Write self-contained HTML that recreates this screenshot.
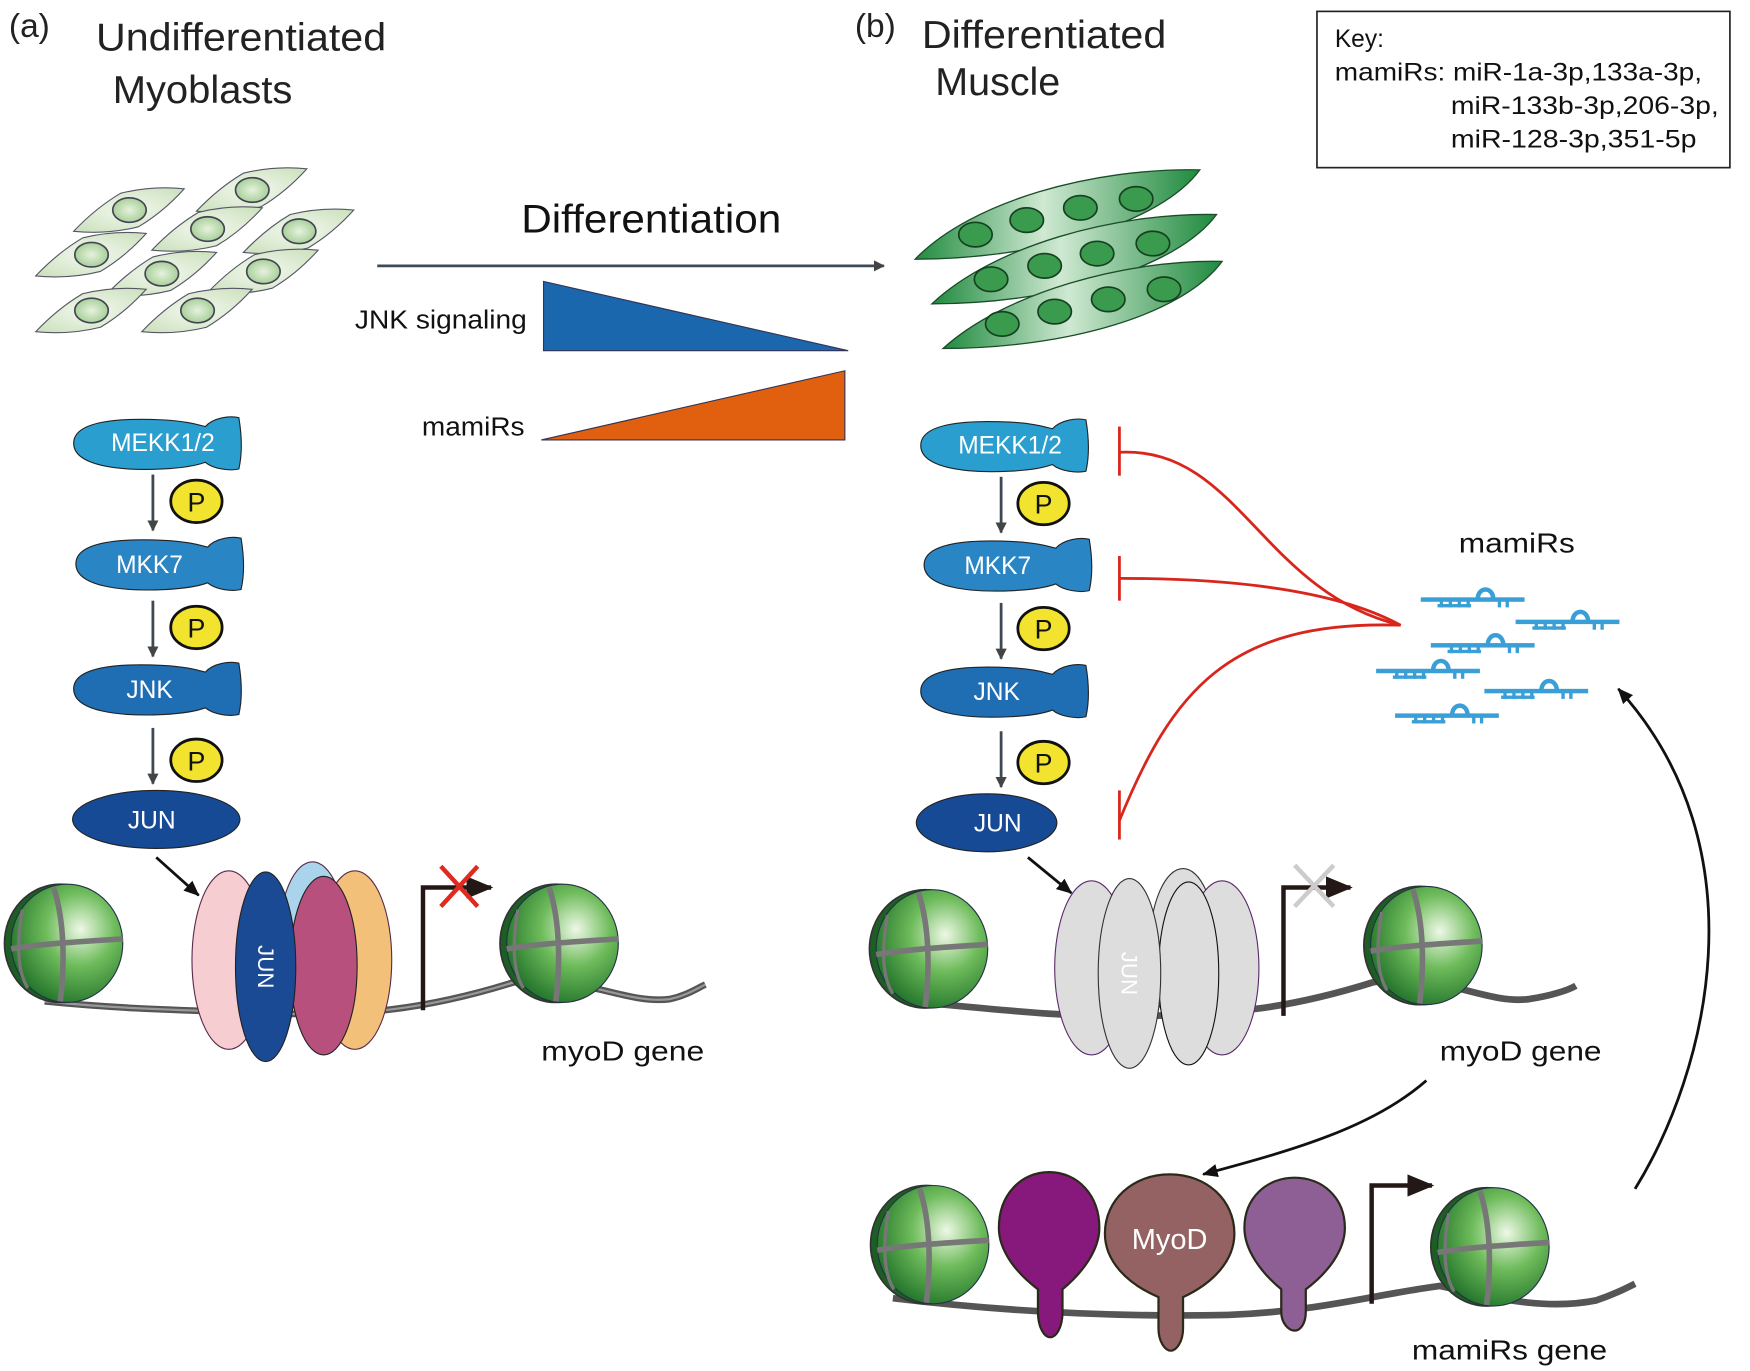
<!DOCTYPE html>
<html><head><meta charset="utf-8"><style>
html,body{margin:0;padding:0;background:#fff;}
svg{display:block;}
text{font-family:"Liberation Sans",sans-serif;}
</style></head><body>
<svg width="1750" height="1371" viewBox="0 0 1568 1228" xmlns="http://www.w3.org/2000/svg">
<defs>
<radialGradient id="nuc" cx="0.62" cy="0.38" r="0.7">
<stop offset="0" stop-color="#eef8e6"/><stop offset="0.45" stop-color="#6dbb5a"/><stop offset="1" stop-color="#1d6e28"/>
</radialGradient>
<radialGradient id="cellg" cx="0.5" cy="0.5" r="0.6">
<stop offset="0" stop-color="#f3f8ee"/><stop offset="1" stop-color="#cfe3c2"/>
</radialGradient>
<radialGradient id="cnuc" cx="0.5" cy="0.5" r="0.6">
<stop offset="0" stop-color="#e6f2de"/><stop offset="1" stop-color="#9cc98c"/>
</radialGradient>
<linearGradient id="fib" x1="0" y1="0" x2="1" y2="0">
<stop offset="0" stop-color="#1f8a3e"/><stop offset="0.45" stop-color="#cfe9d2"/><stop offset="1" stop-color="#1f8a3e"/>
</linearGradient>
<g id="cell">
<path d="M-50,19 Q-30,-2 -8,-15 Q20,-22 49,-19 Q30,2 8,15 Q-20,22 -50,19 Z" fill="url(#cellg)" stroke="#556" stroke-width="1"/>
<ellipse cx="0" cy="0" rx="15" ry="11" fill="url(#cnuc)" stroke="#445" stroke-width="1.5"/>
</g>
<g id="nucl">
<ellipse cx="-6" cy="0" rx="50" ry="53" fill="#1c5e24" stroke="#333" stroke-width="1.5"/>
<ellipse cx="0" cy="0" rx="50" ry="53" fill="url(#nuc)" stroke="#234" stroke-width="1"/>
<path d="M-12,-50 C-2,-20 -2,20 -6,52 M-50,5 C-20,0 20,-2 50,-4" stroke="#777" stroke-width="5" fill="none"/>
<path d="M-40,-30 C-45,0 -45,25 -35,40" stroke="#777" stroke-width="3" fill="none"/>
</g>
<g id="mir" fill="#3a9fd6">
<rect x="0" y="-2" width="93" height="4"/>
<rect x="17" y="0" width="3" height="7"/><rect x="25" y="0" width="3" height="7"/><rect x="33" y="0" width="3" height="7"/><rect x="41" y="0" width="3" height="7"/>
<rect x="15" y="4" width="30" height="3"/>
<path d="M51,0 C51,-12 65,-12 65,0" stroke="#3a9fd6" stroke-width="4" fill="none"/>
<rect x="69" y="0" width="3" height="7"/><rect x="76" y="0" width="3" height="7"/>
</g>
<marker id="ah" markerWidth="10" markerHeight="10" refX="9" refY="5" orient="auto" markerUnits="userSpaceOnUse"><path d="M0,0 L10,5 L0,10 Z" fill="#444"/></marker>
<marker id="ahk" markerWidth="14" markerHeight="12" refX="13" refY="6" orient="auto" markerUnits="userSpaceOnUse"><path d="M0,0 L14,6 L0,12 Z" fill="#111"/></marker>
<marker id="ahb" markerWidth="24" markerHeight="20" refX="22" refY="10" orient="auto" markerUnits="userSpaceOnUse"><path d="M0,0 L24,10 L0,20 Z" fill="#231815"/></marker>
<g id="fish"><path d="M0,25 C0,5 40,2 80,4 C100,5 110,8 118,10 C125,2 140,0 148,2 C151,20 151,35 148,48 C140,50 125,48 118,42 C110,45 100,47 80,48 C40,50 0,45 0,25 Z" stroke="#222" stroke-width="1"/></g>
<g id="P"><ellipse cx="0" cy="0" rx="23" ry="19" fill="#f2e42e" stroke="#111" stroke-width="2.5"/><text x="0" y="9" font-size="24" text-anchor="middle" fill="#111">P</text></g>
</defs>

<!-- titles -->
<text x="8" y="33" font-size="30" fill="#222">(a)</text>
<text x="86" y="45" font-size="35" fill="#222" textLength="260" lengthAdjust="spacingAndGlyphs">Undifferentiated</text>
<text x="101" y="92" font-size="35" fill="#222" textLength="161" lengthAdjust="spacingAndGlyphs">Myoblasts</text>
<text x="766" y="33" font-size="30" fill="#222">(b)</text>
<text x="826" y="43" font-size="35" fill="#222" textLength="219" lengthAdjust="spacingAndGlyphs">Differentiated</text>
<text x="838" y="85" font-size="35" fill="#222" textLength="112" lengthAdjust="spacingAndGlyphs">Muscle</text>

<!-- key -->
<rect x="1180" y="10" width="370" height="140" fill="#fff" stroke="#222" stroke-width="1.5"/>
<text x="1196" y="42" font-size="22" fill="#111">Key:</text>
<text x="1196" y="72" font-size="22" fill="#111" textLength="329" lengthAdjust="spacingAndGlyphs">mamiRs: miR-1a-3p,133a-3p,</text>
<text x="1300" y="102" font-size="22" fill="#111" textLength="240" lengthAdjust="spacingAndGlyphs">miR-133b-3p,206-3p,</text>
<text x="1300" y="132" font-size="22" fill="#111" textLength="220" lengthAdjust="spacingAndGlyphs">miR-128-3p,351-5p</text>

<!-- myoblasts -->
<use href="#cell" x="226" y="170"/>
<use href="#cell" x="116" y="188"/><use href="#cell" x="186" y="205"/><use href="#cell" x="268" y="207"/>
<use href="#cell" x="82" y="228"/><use href="#cell" x="145" y="245"/><use href="#cell" x="236" y="243"/>
<use href="#cell" x="82" y="278"/><use href="#cell" x="177" y="278"/>

<!-- differentiation -->
<text x="467" y="208" font-size="36" fill="#111" textLength="233" lengthAdjust="spacingAndGlyphs">Differentiation</text>
<line x1="338" y1="238" x2="792" y2="238" stroke="#3d4a55" stroke-width="2.5" marker-end="url(#ah)"/>
<text x="318" y="294" font-size="23" fill="#111" textLength="154" lengthAdjust="spacingAndGlyphs">JNK signaling</text>
<polygon points="487,252 487,314 760,314" fill="#1a67ad" stroke="#335" stroke-width="1"/>
<text x="378" y="390" font-size="23" fill="#111" textLength="92" lengthAdjust="spacingAndGlyphs">mamiRs</text>
<polygon points="485,394 757,332 757,394" fill="#e0600f" stroke="#335" stroke-width="1"/>

<!-- muscle fibers -->
<g stroke="#1b4d2a" stroke-width="1.2">
<path d="M820,232 C870,180 980,150 1075,152 C1040,200 930,232 820,232 Z" fill="url(#fib)"/>
<path d="M835,272 C890,220 1000,190 1090,192 C1055,240 945,272 835,272 Z" fill="url(#fib)"/>
<path d="M845,312 C900,262 1010,232 1095,234 C1060,282 955,312 845,312 Z" fill="url(#fib)"/>
</g>
<g fill="#3a9a4e" stroke="#16401f" stroke-width="1.5">
<ellipse cx="874" cy="210" rx="15" ry="11"/><ellipse cx="920" cy="197" rx="15" ry="11"/><ellipse cx="968" cy="186" rx="15" ry="11"/><ellipse cx="1018" cy="178" rx="15" ry="11"/>
<ellipse cx="888" cy="250" rx="15" ry="11"/><ellipse cx="936" cy="238" rx="15" ry="11"/><ellipse cx="983" cy="227" rx="15" ry="11"/><ellipse cx="1033" cy="218" rx="15" ry="11"/>
<ellipse cx="898" cy="290" rx="15" ry="11"/><ellipse cx="945" cy="279" rx="15" ry="11"/><ellipse cx="993" cy="268" rx="15" ry="11"/><ellipse cx="1043" cy="259" rx="15" ry="11"/>
</g>

<!-- left pathway -->
<use href="#fish" x="66" y="372" fill="#2a9fcf"/>
<text x="146" y="404" font-size="22" text-anchor="middle" fill="#fff">MEKK1/2</text>
<use href="#fish" x="68" y="480" fill="#2a85c5"/>
<text x="134" y="513" font-size="22" text-anchor="middle" fill="#fff">MKK7</text>
<use href="#fish" x="66" y="592" fill="#1f6db3"/>
<text x="134" y="625" font-size="22" text-anchor="middle" fill="#fff">JNK</text>
<ellipse cx="140" cy="734" rx="75" ry="26" fill="#174a94" stroke="#222" stroke-width="1"/>
<text x="136" y="742" font-size="22" text-anchor="middle" fill="#fff">JUN</text>
<g stroke="#3d4a55" stroke-width="2.5"><line x1="137" y1="425" x2="137" y2="475" marker-end="url(#ah)"/><line x1="137" y1="538" x2="137" y2="588" marker-end="url(#ah)"/><line x1="137" y1="652" x2="137" y2="702" marker-end="url(#ah)"/></g>
<use href="#P" x="176" y="449"/><use href="#P" x="176" y="562"/><use href="#P" x="176" y="681"/>
<line x1="140" y1="768" x2="178" y2="802" stroke="#111" stroke-width="2.5" marker-end="url(#ahk)"/>

<!-- left chromatin -->
<path d="M40,897 C120,905 180,905 250,908 C320,910 380,905 460,880 C520,872 560,900 600,895 C615,892 625,885 632,882" stroke="#555" stroke-width="6" fill="none"/>
<path d="M40,897 C120,905 180,905 250,908 C320,910 380,905 460,880 C520,872 560,900 600,895 C615,892 625,885 632,882" stroke="#999" stroke-width="2" fill="none"/>
<use href="#nucl" x="60" y="845"/>
<use href="#nucl" x="504" y="845"/>
<ellipse cx="205" cy="860" rx="33" ry="80" fill="#f6cdd0" stroke="#5a2a4a" stroke-width="1"/>
<ellipse cx="280" cy="842" rx="30" ry="70" fill="#a9d4ec" stroke="#5a2a4a" stroke-width="1"/>
<ellipse cx="318" cy="860" rx="33" ry="80" fill="#f3c07a" stroke="#5a2a4a" stroke-width="1"/>
<ellipse cx="290" cy="865" rx="30" ry="80" fill="#b8507e" stroke="#222" stroke-width="1"/>
<ellipse cx="238" cy="866" rx="27" ry="85" fill="#1a4a94" stroke="#222" stroke-width="1"/>
<text x="238" y="866" font-size="20" text-anchor="middle" fill="#fff" transform="rotate(90 238 866)" dy="7">JUN</text>
<path d="M379,905 V795 H440" stroke="#231815" stroke-width="4" fill="none" marker-end="url(#ahb)"/>
<path d="M395,776 L428,812 M428,776 L395,812" stroke="#e02a20" stroke-width="4"/>
<text x="485" y="950" font-size="25" fill="#111" textLength="146" lengthAdjust="spacingAndGlyphs">myoD gene</text>

<!-- right pathway -->
<use href="#fish" x="825" y="374" fill="#2a9fcf"/>
<text x="905" y="406" font-size="22" text-anchor="middle" fill="#fff">MEKK1/2</text>
<use href="#fish" x="828" y="481" fill="#2a85c5"/>
<text x="894" y="514" font-size="22" text-anchor="middle" fill="#fff">MKK7</text>
<use href="#fish" x="825" y="594" fill="#1f6db3"/>
<text x="893" y="627" font-size="22" text-anchor="middle" fill="#fff">JNK</text>
<ellipse cx="884" cy="737" rx="63" ry="26" fill="#174a94" stroke="#222" stroke-width="1"/>
<text x="894" y="745" font-size="22" text-anchor="middle" fill="#fff">JUN</text>
<g stroke="#3d4a55" stroke-width="2.5"><line x1="897" y1="427" x2="897" y2="477" marker-end="url(#ah)"/><line x1="897" y1="540" x2="897" y2="590" marker-end="url(#ah)"/><line x1="897" y1="655" x2="897" y2="705" marker-end="url(#ah)"/></g>
<use href="#P" x="935" y="451"/><use href="#P" x="935" y="563"/><use href="#P" x="935" y="683"/>
<line x1="921" y1="768" x2="960" y2="800" stroke="#111" stroke-width="2.5" marker-end="url(#ahk)"/>

<!-- inhibition -->
<g stroke="#d9261c" stroke-width="2.5" fill="none">
<path d="M1003,405 C1110,400 1130,530 1255,560"/>
<path d="M1003,518 C1110,518 1200,530 1255,560"/>
<path d="M1003,735 C1050,620 1100,555 1255,560"/>
<line x1="1003" y1="382" x2="1003" y2="426"/><line x1="1003" y1="498" x2="1003" y2="538"/><line x1="1003" y1="708" x2="1003" y2="752"/>
</g>
<text x="1307" y="495" font-size="25" fill="#111" textLength="104" lengthAdjust="spacingAndGlyphs">mamiRs</text>
<use href="#mir" x="1273" y="537"/><use href="#mir" x="1358" y="557"/><use href="#mir" x="1282" y="578"/>
<use href="#mir" x="1233" y="601"/><use href="#mir" x="1330" y="619"/><use href="#mir" x="1250" y="641"/>
<path d="M1465,1065 C1530,960 1580,760 1450,617" stroke="#111" stroke-width="2.5" fill="none" marker-end="url(#ahk)"/>

<!-- right chromatin -->
<path d="M815,897 C900,905 960,912 1030,910 C1100,908 1150,905 1230,880 C1290,870 1330,900 1370,895 C1390,892 1405,887 1412,883" stroke="#555" stroke-width="6" fill="none"/>
<use href="#nucl" x="835" y="850"/>
<use href="#nucl" x="1278" y="847"/>
<g stroke="#5a2a6a" stroke-width="1">
<ellipse cx="978" cy="867" rx="33" ry="78" fill="#ddd"/>
<ellipse cx="1060" cy="850" rx="30" ry="72" fill="#ddd" stroke="#333"/>
<ellipse cx="1095" cy="867" rx="33" ry="78" fill="#ddd"/>
<ellipse cx="1065" cy="872" rx="27" ry="82" fill="#ddd" stroke="#111"/>
<ellipse cx="1012" cy="872" rx="28" ry="85" fill="#ddd" stroke="#333"/>
</g>
<text x="1012" y="872" font-size="20" text-anchor="middle" fill="#fff" transform="rotate(90 1012 872)" dy="7">JUN</text>
<path d="M1150,910 V795 H1210" stroke="#231815" stroke-width="4" fill="none" marker-end="url(#ahb)"/>
<path d="M1160,775 L1195,812 M1195,775 L1160,812" stroke="#ccc" stroke-width="4"/>
<text x="1290" y="950" font-size="25" fill="#111" textLength="145" lengthAdjust="spacingAndGlyphs">myoD gene</text>
<path d="M1278,968 C1230,1010 1160,1030 1078,1052" stroke="#111" stroke-width="2.5" fill="none" marker-end="url(#ahk)"/>

<!-- bottom chromatin -->
<path d="M800,1163 C900,1175 1000,1180 1100,1178 C1180,1175 1230,1160 1290,1152 C1330,1160 1380,1175 1430,1165 C1445,1160 1455,1155 1465,1150" stroke="#555" stroke-width="6" fill="none"/>
<use href="#nucl" x="836" y="1115"/>
<use href="#nucl" x="1338" y="1117"/>
<g stroke="#2a2a1a" stroke-width="2">
<path d="M930,1155 C910,1140 895,1120 895,1100 C895,1070 915,1050 940,1050 C965,1050 985,1070 985,1100 C985,1120 970,1140 952,1155 L952,1175 C952,1190 946,1198 941,1198 C936,1198 930,1190 930,1175 Z" fill="#87187c"/>
<path d="M1038,1162 C1010,1150 990,1130 990,1105 C990,1075 1015,1052 1048,1052 C1081,1052 1106,1075 1106,1105 C1106,1130 1086,1150 1060,1162 L1060,1190 C1060,1202 1054,1210 1049,1210 C1044,1210 1038,1202 1038,1190 Z" fill="#956263"/>
<path d="M1148,1155 C1130,1140 1115,1120 1115,1100 C1115,1073 1135,1055 1160,1055 C1185,1055 1205,1073 1205,1100 C1205,1120 1190,1140 1170,1155 L1170,1175 C1170,1186 1165,1192 1160,1192 C1155,1192 1148,1186 1148,1175 Z" fill="#8e5f94"/>
</g>
<text x="1048" y="1119" font-size="26" text-anchor="middle" fill="#fff">MyoD</text>
<path d="M1229,1168 V1062 H1283" stroke="#231815" stroke-width="4" fill="none" marker-end="url(#ahb)"/>
<text x="1265" y="1218" font-size="25" fill="#111" textLength="175" lengthAdjust="spacingAndGlyphs">mamiRs gene</text>
</svg>
</body></html>
